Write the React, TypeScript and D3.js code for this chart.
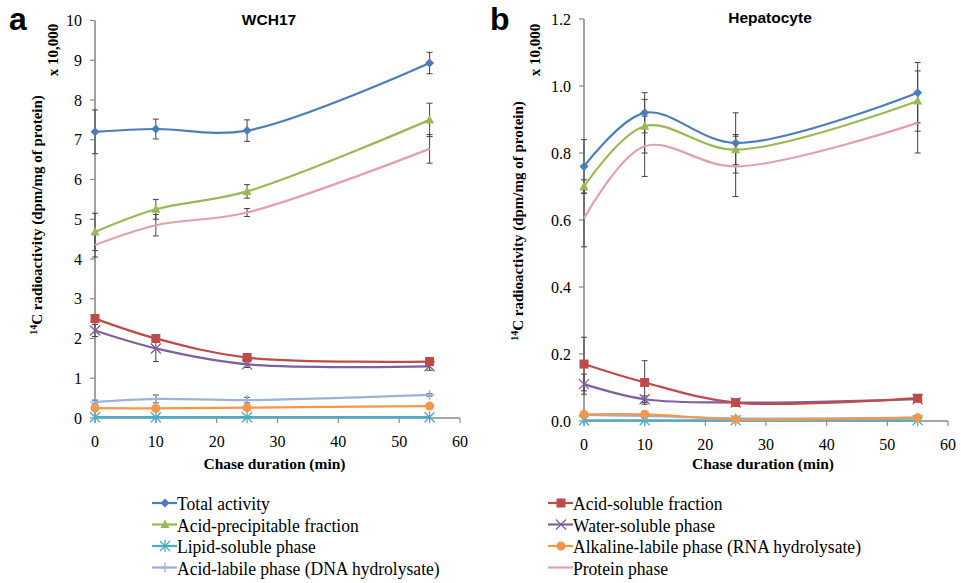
import React from 'react';
import * as d3 from 'd3';

// chase time points (min)
const chaseMin = [0, 10, 25, 55];

// panel a: WCH17 (x 10,000 dpm/mg protein)
const wchTotal = [7.2, 7.27, 7.23, 8.93];
const wchTotalErr = [0.55, 0.25, 0.27, 0.27];
const wchAcidPrecip = [4.68, 5.25, 5.7, 7.5];
const wchAcidPrecipErr = [0.47, 0.25, 0.17, 0.42];
const wchLipid = [0.02, 0.02, 0.02, 0.02];
const wchLipidErr = [0, 0, 0, 0];
const wchAcidLabile = [0.4, 0.48, 0.45, 0.58];
const wchAcidLabileErr = [0.05, 0.1, 0.07, 0.03];
const wchAcidSoluble = [2.5, 2.0, 1.52, 1.42];
const wchAcidSolubleErr = [0.1, 0.08, 0.1, 0.1];
const wchWater = [2.2, 1.75, 1.35, 1.3];
const wchWaterErr = [0.15, 0.33, 0.08, 0.1];
const wchAlkaline = [0.25, 0.24, 0.26, 0.3];
const wchAlkalineErr = [0.03, 0.03, 0.03, 0.03];
const wchProtein = [4.35, 4.85, 5.17, 6.77];
const wchProteinErr = [0.3, 0.27, 0.1, 0.36];

// panel b: Hepatocyte
const hepTotal = [0.76, 0.92, 0.83, 0.98];
const hepTotalErr = [0.08, 0.06, 0.09, 0.09];
const hepAcidPrecip = [0.7, 0.88, 0.81, 0.955];
const hepAcidPrecipErr = [0.02, 0.08, 0.045, 0.09];
const hepLipid = [0.002, 0.002, 0.002, 0.002];
const hepLipidErr = [0, 0, 0, 0];
const hepAcidLabile = [0.018, 0.015, 0.008, 0.01];
const hepAcidLabileErr = [0.005, 0.005, 0.003, 0.003];
const hepAcidSoluble = [0.17, 0.115, 0.055, 0.068];
const hepAcidSolubleErr = [0.08, 0.065, 0.008, 0.008];
const hepWater = [0.11, 0.065, 0.055, 0.065];
const hepWaterErr = [0.03, 0.01, 0.008, 0.008];
const hepAlkaline = [0.02, 0.02, 0.005, 0.01];
const hepAlkalineErr = [0.003, 0.003, 0.003, 0.003];
const hepProtein = [0.605, 0.82, 0.76, 0.89];
const hepProteinErr = [0.085, 0.09, 0.09, 0.09];

const xTicks = [0, 10, 20, 30, 40, 50, 60];
const wchYTicks = [0, 1, 2, 3, 4, 5, 6, 7, 8, 9, 10];
const hepYTicks = [0, 0.2, 0.4, 0.6, 0.8, 1.0, 1.2];

const legendLeft = ['Total activity', 'Acid-precipitable fraction', 'Lipid-soluble phase', 'Acid-labile phase (DNA hydrolysate)'];
const legendRight = ['Acid-soluble fraction', 'Water-soluble phase', 'Alkaline-labile phase (RNA hydrolysate)', 'Protein phase'];

const styles = {
  total: { color: '#4a7ebb', marker: 'diamond' },
  precip: { color: '#98b954', marker: 'triangle' },
  lipid: { color: '#4bacc6', marker: 'asterisk' },
  labile: { color: '#9bb3d8', marker: 'plus' },
  soluble: { color: '#be4b48', marker: 'square' },
  water: { color: '#7d60a0', marker: 'x' },
  alkaline: { color: '#f79646', marker: 'circle' },
  protein: { color: '#e4a0a8', marker: 'none' },
};

const serif = "'Liberation Serif', 'Times New Roman', serif";
const sans = "'Liberation Sans', Arial, sans-serif";
const axisGray = '#8a8a8a';

const Marker = ({ type, x, y, color }) => {
  if (type === 'diamond') return <path d={`M${x},${y - 4.5}L${x + 4.5},${y}L${x},${y + 4.5}L${x - 4.5},${y}Z`} fill={color} />;
  if (type === 'triangle') return <path d={`M${x},${y - 5}L${x + 4.5},${y + 3.5}L${x - 4.5},${y + 3.5}Z`} fill={color} />;
  if (type === 'square') return <rect x={x - 4.5} y={y - 4.5} width={9} height={9} fill={color} />;
  if (type === 'circle') return <circle cx={x} cy={y} r={4.5} fill={color} />;
  if (type === 'x')
    return <path d={`M${x - 5},${y - 5}L${x + 5},${y + 5}M${x - 5},${y + 5}L${x + 5},${y - 5}`} stroke={color} strokeWidth={1.3} />;
  if (type === 'asterisk')
    return (
      <path
        d={`M${x - 5},${y - 5}L${x + 5},${y + 5}M${x - 5},${y + 5}L${x + 5},${y - 5}M${x},${y - 6}L${x},${y + 6}`}
        stroke={color}
        strokeWidth={1.3}
      />
    );
  if (type === 'plus') return <path d={`M${x - 5},${y}L${x + 5},${y}M${x},${y - 5}L${x},${y + 5}`} stroke={color} strokeWidth={1.3} />;
  return null;
};

const Panel = ({ letter, letterX, title, titleX, titleY, x0, x1, yTop, yBottom, yMax, yTicks, yFmt, series, multX, labelX, labelY }) => {
  const x = d3.scaleLinear().domain([0, 60]).range([x0, x1]);
  const y = d3.scaleLinear().domain([0, yMax]).range([yBottom, yTop]);
  const line = d3
    .line<number>()
    .x((_, i) => x(chaseMin[i]))
    .y((d) => y(d))
    .curve(d3.curveCatmullRom.alpha(0.5));
  return (
    <g>
      <text x={letterX} y={30} style={{ fontFamily: sans, fontWeight: 'bold', fontSize: 32 }}>
        {letter}
      </text>
      <text x={titleX} y={titleY} textAnchor="middle" style={{ fontFamily: sans, fontWeight: 'bold', fontSize: 15.5 }}>
        {title}
      </text>
      {/* y axis */}
      <line x1={x0} x2={x0} y1={yTop} y2={yBottom} stroke={axisGray} strokeWidth={1.6} />
      {yTicks.map((t) => (
        <g key={t}>
          <line x1={x0 - 5} x2={x0} y1={y(t)} y2={y(t)} stroke={axisGray} strokeWidth={1.2} />
          <text x={x0 - 13} y={y(t) + 5.5} textAnchor="end" style={{ fontFamily: serif, fontSize: 16 }}>
            {yFmt(t)}
          </text>
        </g>
      ))}
      {/* x axis */}
      <line x1={x0} x2={x1} y1={yBottom} y2={yBottom} stroke={axisGray} strokeWidth={1.6} />
      {xTicks.map((t) => (
        <g key={t}>
          <line x1={x(t)} x2={x(t)} y1={yBottom} y2={yBottom + 5} stroke={axisGray} strokeWidth={1.2} />
          <text x={x(t)} y={yBottom + 29} textAnchor="middle" style={{ fontFamily: serif, fontSize: 16 }}>
            {t}
          </text>
        </g>
      ))}
      <text x={(x0 + x1) / 2 - 3} y={469} textAnchor="middle" style={{ fontFamily: serif, fontWeight: 'bold', fontSize: 15.5 }}>
        Chase duration (min)
      </text>
      <text
        transform={`translate(${multX},50) rotate(-90)`}
        textAnchor="middle"
        style={{ fontFamily: serif, fontWeight: 'bold', fontSize: 15 }}
      >
        x 10,000
      </text>
      <text
        transform={`translate(${labelX},${labelY}) rotate(-90)`}
        textAnchor="middle"
        style={{ fontFamily: serif, fontWeight: 'bold', fontSize: 15 }}
      >
        <tspan style={{ fontSize: 10 }} dy={-5}>14</tspan>
        <tspan dy={5}>C radioactivity (dpm/mg of protein)</tspan>
      </text>
      {/* error bars */}
      {series.map((s, si) =>
        s.values.map((v, i) =>
          s.err[i] > 0 ? (
            <g key={`e${si}-${i}`} stroke="#444" strokeWidth={1}>
              <line x1={x(chaseMin[i])} x2={x(chaseMin[i])} y1={y(v - s.err[i])} y2={y(v + s.err[i])} />
              <line x1={x(chaseMin[i]) - 3} x2={x(chaseMin[i]) + 3} y1={y(v - s.err[i])} y2={y(v - s.err[i])} />
              <line x1={x(chaseMin[i]) - 3} x2={x(chaseMin[i]) + 3} y1={y(v + s.err[i])} y2={y(v + s.err[i])} />
            </g>
          ) : null
        )
      )}
      {/* lines */}
      {series.map((s, si) => (
        <path key={`l${si}`} d={line(s.values) || ''} fill="none" stroke={s.style.color} strokeWidth={2.2} />
      ))}
      {series.map((s, si) =>
        s.values.map((v, i) => <Marker key={`m${si}-${i}`} type={s.style.marker} x={x(chaseMin[i])} y={y(v)} color={s.style.color} />)
      )}
    </g>
  );
};

const LegendItem = ({ x, y, label, style }) => (
  <g>
    <line x1={x} x2={x + 25} y1={y - 7} y2={y - 7} stroke={style.color} strokeWidth={2.2} />
    <Marker type={style.marker} x={x + 13} y={y - 7} color={style.color} />
    <text transform={`translate(${x + 25},${y}) scale(0.9,1)`} style={{ fontFamily: serif, fontSize: 19.5 }}>
      {label}
    </text>
  </g>
);

export default function App() {
  const wchSeries = [
    { values: wchLipid, err: wchLipidErr, style: styles.lipid },
    { values: wchAlkaline, err: wchAlkalineErr, style: styles.alkaline },
    { values: wchAcidLabile, err: wchAcidLabileErr, style: styles.labile },
    { values: wchWater, err: wchWaterErr, style: styles.water },
    { values: wchAcidSoluble, err: wchAcidSolubleErr, style: styles.soluble },
    { values: wchProtein, err: wchProteinErr, style: styles.protein },
    { values: wchAcidPrecip, err: wchAcidPrecipErr, style: styles.precip },
    { values: wchTotal, err: wchTotalErr, style: styles.total },
  ];
  const hepSeries = [
    { values: hepLipid, err: hepLipidErr, style: styles.lipid },
    { values: hepAcidLabile, err: hepAcidLabileErr, style: styles.labile },
    { values: hepAlkaline, err: hepAlkalineErr, style: styles.alkaline },
    { values: hepWater, err: hepWaterErr, style: styles.water },
    { values: hepAcidSoluble, err: hepAcidSolubleErr, style: styles.soluble },
    { values: hepProtein, err: hepProteinErr, style: styles.protein },
    { values: hepAcidPrecip, err: hepAcidPrecipErr, style: styles.precip },
    { values: hepTotal, err: hepTotalErr, style: styles.total },
  ];
  const leftStyles = [styles.total, styles.precip, styles.lipid, styles.labile];
  const rightStyles = [styles.soluble, styles.water, styles.alkaline, styles.protein];
  return (
    <svg width={961} height={583} style={{ position: 'absolute', left: 0, top: 0, background: '#fff' }}>
      <Panel
        letter="a"
        letterX={9}
        title="WCH17"
        titleX={269}
        titleY={25}
        x0={95}
        x1={460}
        yTop={20.5}
        yBottom={418}
        yMax={10}
        yTicks={wchYTicks}
        yFmt={(t) => String(t)}
        series={wchSeries}
        multX={58}
        labelX={42}
        labelY={215}
      />
      <Panel
        letter="b"
        letterX={490}
        title="Hepatocyte"
        titleX={770}
        titleY={23}
        x0={584}
        x1={948}
        yTop={19}
        yBottom={421}
        yMax={1.2}
        yTicks={hepYTicks}
        yFmt={(t) => t.toFixed(1)}
        series={hepSeries}
        multX={540}
        labelX={523}
        labelY={221}
      />
      {legendLeft.map((l, i) => (
        <LegendItem key={l} x={152} y={510 + i * 21.5} label={l} style={leftStyles[i]} />
      ))}
      {legendRight.map((l, i) => (
        <LegendItem key={l} x={548} y={510 + i * 21.5} label={l} style={rightStyles[i]} />
      ))}
    </svg>
  );
}
